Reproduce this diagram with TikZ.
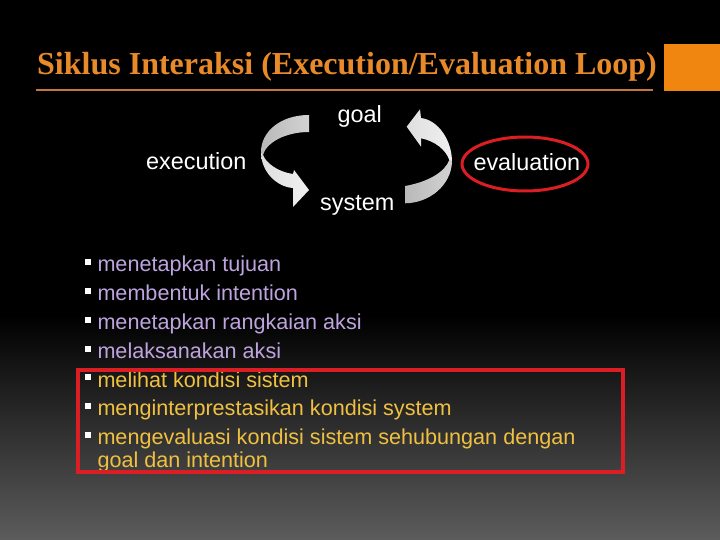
\documentclass[tikz,border=0pt]{standalone}
\usepackage{fontspec}
\setmainfont{Liberation Sans}
\newfontfamily\titlefont{Liberation Serif}
\definecolor{titleorange}{RGB}{232,137,42}
\definecolor{lineorange}{RGB}{196,118,60}
\definecolor{boxorange}{RGB}{240,134,16}
\definecolor{lav}{RGB}{190,164,222}
\definecolor{gold}{RGB}{240,192,64}
\definecolor{ringred}{RGB}{218,30,36}
\definecolor{botgray}{RGB}{92,92,92}
\newcommand\sqbul{{\color{white}\rule[7pt]{6pt}{6pt}}\hspace{6.3pt}}
\begin{document}
\begin{tikzpicture}[x=1pt,y=-1pt,
  lbl/.style={anchor=base west,inner sep=0pt,text=white,font=\fontsize{23.4}{26}\selectfont},
  itemp/.style={anchor=base west,inner sep=0pt,text=lav,font=\fontsize{21.6}{24}\selectfont},
  itemg/.style={anchor=base west,inner sep=0pt,text=gold,font=\fontsize{21.6}{24}\selectfont},
  darkband/.style={left color=gray!55!white,right color=gray!35!white},
  lightband/.style={left color=gray!25!white,right color=gray!12!white}]
\useasboundingbox (0,0) rectangle (720,540);
\fill[black] (0,0) rectangle (720,540);
\shade[top color=black,bottom color=botgray] (0,315) rectangle (720,540);
% title
\node[anchor=base west,inner sep=0pt,text=titleorange,font=\titlefont\bfseries\fontsize{32}{36}\selectfont] (title) at (37,74.3) {Siklus Interaksi (Execution/Evaluation Loop)};
\draw[lineorange,line width=2pt] (36,90) -- (653,90);
\fill[boxorange] (663.5,44) rectangle (720,91.5);
% left curved arrow (execution)
\shade[darkband] (309,115) .. controls (280,115) and (261,132) .. (261,152)
  -- (263,155) .. controls (266,143) and (285,132) .. (309,132) -- cycle;
\shade[lightband] (261,152) .. controls (261,172) and (277,187) .. (293,188)
  -- (293,207) -- (309,190) -- (294,170) -- (293,174)
  .. controls (278,172) and (266,163) .. (263,155) -- cycle;
% right curved arrow (evaluation)
\shade[lightband] (452,162) .. controls (452,140) and (438,120) .. (421,118)
  -- (420,109.3) -- (406.7,126.7) -- (421,146.7) -- (421,138.3)
  .. controls (435,141) and (446,150) .. (449.3,160) -- cycle;
\shade[darkband] (452,162) .. controls (451,185) and (430,203) .. (405,203.3)
  -- (405,186) .. controls (428,182) and (445,172) .. (449.3,160) -- cycle;
% labels
\node[lbl] (goal) at (337.3,122.5) {goal};
\node[lbl] (exec) at (146,169.5) {execution};
\node[lbl] (eval) at (473.3,170.7) {evaluation};
\node[lbl] (sys) at (320,211) {system};
\draw[ringred,line width=3pt] (525,164) ellipse [x radius=63pt,y radius=27pt];
% bullet list
\node[itemp] (i1) at (85,271.7) {\sqbul menetapkan tujuan};
\node[itemp] (i2) at (85,300.7) {\sqbul membentuk intention};
\node[itemp] (i3) at (85,329.7) {\sqbul menetapkan rangkaian aksi};
\node[itemp] (i4) at (85,358.7) {\sqbul melaksanakan aksi};
\node[itemg] (i5) at (85,387.2) {\sqbul melihat kondisi sistem};
\node[itemg] (i6) at (85,415.8) {\sqbul menginterprestasikan kondisi system};
\node[itemg] (i7) at (85,444.5) {\sqbul mengevaluasi kondisi sistem sehubungan dengan};
\node[itemg] (i7b) at (97.3,467.5) {goal dan intention};
\draw[ringred,line width=4pt] (78,370.3) rectangle (623,472);
\end{tikzpicture}
\end{document}
